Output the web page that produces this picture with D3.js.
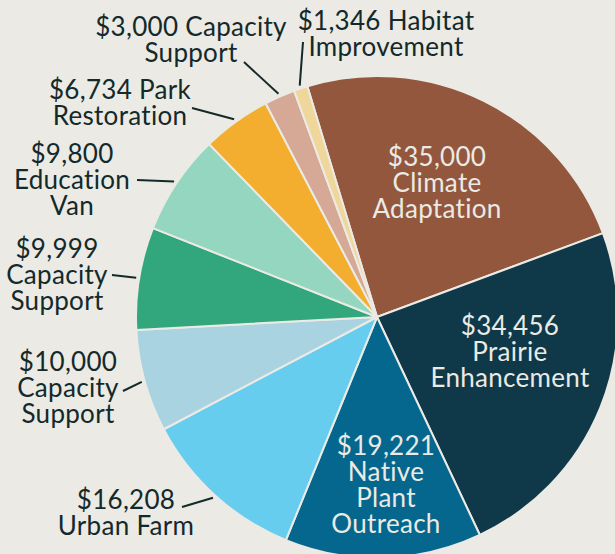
<!DOCTYPE html>
<html>
<head>
<meta charset="utf-8">
<script src="https://cdnjs.cloudflare.com/ajax/libs/d3/7.8.5/d3.min.js"></script>
<style>
  html, body { margin: 0; padding: 0; background: #ebeae4; }
  svg { display: block; }
  text {
    font-family: Lato, "Noto Sans", sans-serif;
    font-size: 26px;
    letter-spacing: 0.3px;
    font-variant-ligatures: none;
  }
</style>
</head>
<body>
<svg width="615" height="554"></svg>
<script>
// grant amounts, in the order the pie draws them (largest first)
var amounts = [35000, 34456, 19221, 16208, 10000, 9999, 9800, 6734, 3000, 1346];
var names = [
  ["Climate", "Adaptation"],
  ["Prairie", "Enhancement"],
  ["Native", "Plant", "Outreach"],
  ["Urban Farm"],
  ["Capacity", "Support"],
  ["Capacity", "Support"],
  ["Education", "Van"],
  ["Park", "Restoration"],
  ["Capacity", "Support"],
  ["Habitat", "Improvement"]
];
var colors = ["#93573e", "#0f3849", "#05678e", "#66cdef", "#a9d3e1",
              "#32a77e", "#94d6c0", "#f3ae2f", "#d5a996", "#efd79b"];

// label layout: inside or outside, whether the amount shares a line with the first word,
// text anchor (centre x, first baseline) and where the leader line ends
var labelPos = [[437, 166], [510, 335], [386, 455], [126, 509], [68, 371],
                [57, 258], [72, 163], [120, 99], [191, 36], [386, 30]];
var inside = [true, true, true, false, false, false, false, false, false, false];
var joinFirst = [false, false, false, false, false, false, false, true, true, true];
var leaderEnd = [null, null, null, [182, 507], [123, 391], [112, 275],
                 [137, 180], [192, 108], [244, 62], [303, 42]];

var svg = d3.select("svg"),
    width = +svg.attr("width"),
    height = +svg.attr("height");

var cx = 377, cy = 317, radius = 241, lineH = 26;
var fmt = d3.format(",d");
var start = -16.8 * Math.PI / 180;

var data = amounts.map(function(v, i) {
  return {value: v, i: i};
});

var pie = d3.pie()
    .sort(null)
    .value(function(d) { return d.value; })
    .startAngle(start)
    .endAngle(start + 2 * Math.PI);

var arc = d3.arc().innerRadius(0).outerRadius(radius);
var leaderArc = d3.arc().innerRadius(244).outerRadius(244);

var arcs = pie(data);

var g = svg.append("g")
    .attr("transform", "translate(" + cx + "," + cy + ")");

g.selectAll("path")
  .data(arcs)
  .enter().append("path")
    .attr("d", arc)
    .attr("fill", function(d) { return colors[d.data.i]; })
    .attr("stroke", "#ebeae4")
    .attr("stroke-width", 2)
    .attr("stroke-linejoin", "round");

// leader lines for the outside labels
svg.selectAll(".leader")
  .data(arcs.filter(function(d) { return !inside[d.data.i]; }))
  .enter().append("line")
    .attr("class", "leader")
    .attr("x1", function(d) { return cx + leaderArc.centroid(d)[0]; })
    .attr("y1", function(d) { return cy + leaderArc.centroid(d)[1]; })
    .attr("x2", function(d) { return leaderEnd[d.data.i][0]; })
    .attr("y2", function(d) { return leaderEnd[d.data.i][1]; })
    .attr("stroke", "#13292a")
    .attr("stroke-width", 2);

function lines(i) {
  var first = "$" + fmt(amounts[i]);
  var rest = names[i].slice();
  if (joinFirst[i]) first += " " + rest.shift();
  return [first].concat(rest);
}

var label = svg.selectAll(".label")
  .data(arcs)
  .enter().append("text")
    .attr("class", "label")
    .attr("text-anchor", "middle")
    .attr("fill", function(d) { return inside[d.data.i] ? "#ebeae4" : "#13292a"; });

label.selectAll("tspan")
  .data(function(d) {
    var i = d.data.i;
    return lines(i).map(function(t, k) { return {t: t, k: k, i: i}; });
  })
  .enter().append("tspan")
    .attr("x", function(d) { return labelPos[d.i][0]; })
    .attr("y", function(d) { return labelPos[d.i][1] + d.k * lineH; })
    .text(function(d) { return d.t; });
</script>
</body>
</html>
